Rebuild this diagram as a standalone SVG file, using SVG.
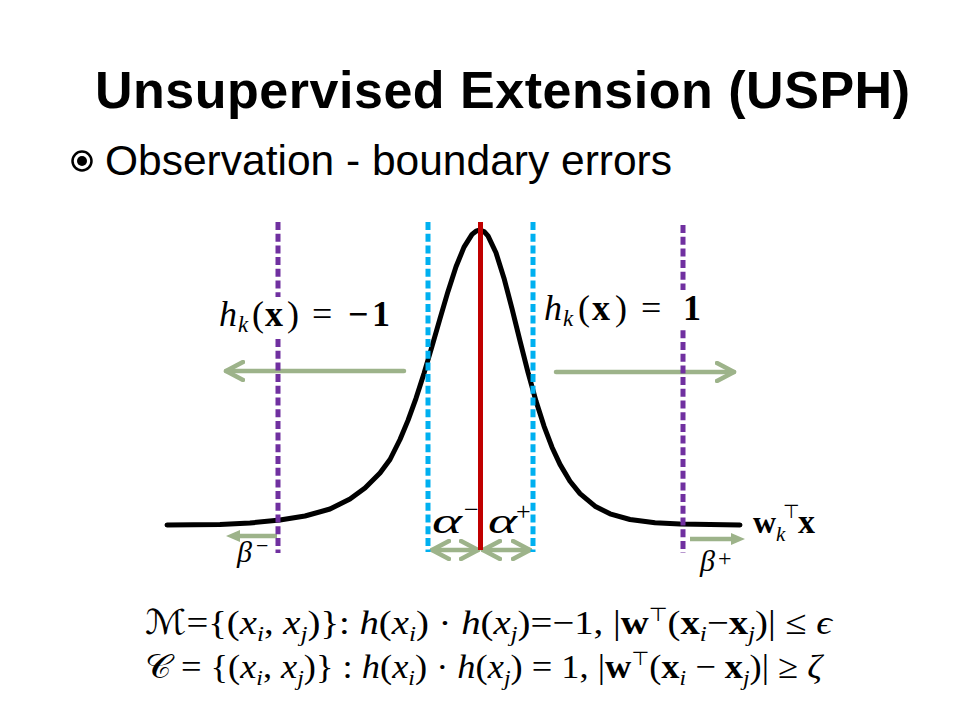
<svg xmlns="http://www.w3.org/2000/svg" width="960" height="720" viewBox="0 0 960 720">
<style>
.title{font-family:"Liberation Sans",Arial,sans-serif;font-weight:bold;font-size:52px;fill:#000}
.sub{font-family:"Liberation Sans",Arial,sans-serif;font-size:42px;fill:#000}
.m{font-family:"Liberation Serif","DejaVu Serif",serif;fill:#000}
.f{font-family:"Liberation Serif","DejaVu Serif",serif;font-size:34px;fill:#000}
.i{font-style:italic}
.b{font-weight:bold}
.s{font-size:22px}
.t{font-family:"DejaVu Sans",sans-serif;font-size:19px}
.cal{font-family:"DejaVu Serif","DejaVu Sans","Noto Sans",serif}
.purple{stroke:#7030A0;stroke-width:5;stroke-dasharray:8 3.7;fill:none}
.blue{stroke:#00B0F0;stroke-width:5;stroke-dasharray:8 3.7;fill:none}
.red{stroke:#C00000;stroke-width:5;fill:none}
.curve{stroke:#000;stroke-width:5;fill:none;stroke-linejoin:round;stroke-linecap:round}
.arr{stroke:#9DB38A;stroke-width:4.5;fill:none;stroke-linecap:round}
</style>
<defs>
<marker id="chev" viewBox="0 0 22 22" refX="19" refY="11" markerWidth="22" markerHeight="22" markerUnits="userSpaceOnUse" orient="auto-start-reverse">
<path d="M2,2 L19,11 L2,20" fill="none" stroke="#9DB38A" stroke-width="4.5" stroke-linecap="round" stroke-linejoin="round"/>
</marker>
<marker id="tri" viewBox="0 0 14 12" refX="0" refY="6" markerWidth="14" markerHeight="12" markerUnits="userSpaceOnUse" orient="auto">
<path d="M0,0 L14,6 L0,12 Z" fill="#9DB38A"/>
</marker>
</defs>

<g id="heading">
<text class="title" x="95" y="108" textLength="815" lengthAdjust="spacing">Unsupervised Extension (USPH)</text>
<circle cx="82" cy="161" r="9.5" fill="none" stroke="#000" stroke-width="2.5"/>
<circle cx="82" cy="161" r="5" fill="#000"/>
<text class="sub" x="105" y="175" textLength="567" lengthAdjust="spacingAndGlyphs">Observation - boundary errors</text>
</g>

<g id="curve">
<path class="curve" d="M167,525 L220,524.5 L250,523 L280,520 L305,516 L330,509 L350,499 L365,488 L380,473 L390,459.5 L400,439.5 L408,420.4 L416,398.3 L424,373.4 L432,346.4 L440,318.6 L448,291.4 L456,266.8 L464,247.1 L472,234.4 L476,231.2 L480,230 L484,231.5 L488,235.9 L496,252.8 L504,278.2 L512,308.6 L520,340.9 L528,372.4 L536,401.1 L544,426.1 L552,447.2 L560,464.4 L570,481.2 L580,493.6 L595,506.2 L610,513.8 L630,519.5 L655,522.7 L680,524 L740,525"/>
</g>

<g id="connectors">
<path class="arr" d="M404,371 L226,371" marker-end="url(#chev)"/>
<path class="arr" d="M556,372 L734,372" marker-end="url(#chev)"/>
<path class="arr" d="M432,550 L478,550" marker-start="url(#chev)" marker-end="url(#chev)"/>
<path class="arr" d="M483,550 L530,550" marker-start="url(#chev)" marker-end="url(#chev)"/>
<path class="arr" d="M277,536 L240,536" marker-end="url(#tri)" style="stroke-linecap:butt"/>
<path class="arr" d="M690,539 L731,539" marker-end="url(#tri)" style="stroke-linecap:butt"/>
</g>

<g id="boundaries">
<line class="purple" x1="278" y1="222" x2="278" y2="553"/>
<line class="purple" x1="683" y1="225" x2="683" y2="553"/>
<line class="blue" x1="428" y1="222" x2="428" y2="552"/>
<line class="blue" x1="533" y1="222" x2="533" y2="552"/>
<line class="red" x1="480.5" y1="222" x2="480.5" y2="550"/>
</g>

<g id="label-neg">
<rect x="214" y="297" width="182" height="39" fill="#fff"/>
<text class="m" y="326" font-size="36"><tspan class="i" x="219">h</tspan><tspan class="i" x="238" y="332" font-size="23">k</tspan><tspan x="252" y="326">(</tspan><tspan class="b" x="265">x</tspan><tspan x="287">)</tspan><tspan x="312">=</tspan><tspan class="b" x="348">−</tspan><tspan class="b" x="372">1</tspan></text>
</g>

<g id="label-pos">
<rect x="541" y="290" width="165" height="38" fill="#fff"/>
<text class="m" y="320" font-size="36"><tspan class="i" x="544">h</tspan><tspan class="i" x="563" y="326" font-size="23">k</tspan><tspan x="578" y="320">(</tspan><tspan class="b" x="592">x</tspan><tspan x="615">)</tspan><tspan x="641">=</tspan><tspan class="b" x="683">1</tspan></text>
</g>

<g id="label-alpha">
<text class="m i" x="432" y="533" font-size="36" textLength="30" lengthAdjust="spacingAndGlyphs">α</text>
<text class="m" x="464" y="518" font-size="26">−</text>
<text class="m i" x="488" y="533" font-size="36" textLength="29" lengthAdjust="spacingAndGlyphs">α</text>
<text class="m" x="516" y="520" font-size="26">+</text>
</g>

<g id="label-beta">
<text class="m i" x="237" y="562" font-size="30">β</text>
<text class="m" x="256" y="553" font-size="22">−</text>
<text class="m i" x="700" y="571" font-size="30">β</text>
<text class="m" x="718" y="566" font-size="24">+</text>
</g>

<g id="label-axis">
<text class="m" y="533" font-size="32"><tspan class="b" x="753">w</tspan><tspan class="i" x="776" y="541" font-size="21">k</tspan><tspan class="t" x="783" y="518">⊤</tspan><tspan class="b" x="798" y="533" font-size="34">x</tspan></text>
</g>

<g id="formulas">
<text class="f" x="145" y="634" textLength="687" lengthAdjust="spacingAndGlyphs"><tspan class="cal">ℳ</tspan>={(<tspan class="i">x</tspan><tspan class="i s" dy="7">i</tspan><tspan dy="-7">, </tspan><tspan class="i">x</tspan><tspan class="i s" dy="7">j</tspan><tspan dy="-7">)}: </tspan><tspan class="i">h</tspan>(<tspan class="i">x</tspan><tspan class="i s" dy="7">i</tspan><tspan dy="-7">) · </tspan><tspan class="i">h</tspan>(<tspan class="i">x</tspan><tspan class="i s" dy="7">j</tspan><tspan dy="-7">)=−1, |</tspan><tspan class="b">w</tspan><tspan class="t" dy="-13">⊤</tspan><tspan dy="13">(</tspan><tspan class="b">x</tspan><tspan class="i s" dy="7">i</tspan><tspan dy="-7">−</tspan><tspan class="b">x</tspan><tspan class="i s" dy="7">j</tspan><tspan dy="-7">)|  ≤ </tspan><tspan class="i">ϵ</tspan></text>
<text class="f" x="145" y="678" textLength="677" lengthAdjust="spacingAndGlyphs"><tspan class="cal">𝒞</tspan> = {(<tspan class="i">x</tspan><tspan class="i s" dy="7">i</tspan><tspan dy="-7">, </tspan><tspan class="i">x</tspan><tspan class="i s" dy="7">j</tspan><tspan dy="-7">)} : </tspan><tspan class="i">h</tspan>(<tspan class="i">x</tspan><tspan class="i s" dy="7">i</tspan><tspan dy="-7">) · </tspan><tspan class="i">h</tspan>(<tspan class="i">x</tspan><tspan class="i s" dy="7">j</tspan><tspan dy="-7">) = 1, |</tspan><tspan class="b">w</tspan><tspan class="t" dy="-13">⊤</tspan><tspan dy="13">(</tspan><tspan class="b">x</tspan><tspan class="i s" dy="7">i</tspan><tspan dy="-7"> − </tspan><tspan class="b">x</tspan><tspan class="i s" dy="7">j</tspan><tspan dy="-7">)| ≥ </tspan><tspan class="i">ζ</tspan></text>
</g>
</svg>
